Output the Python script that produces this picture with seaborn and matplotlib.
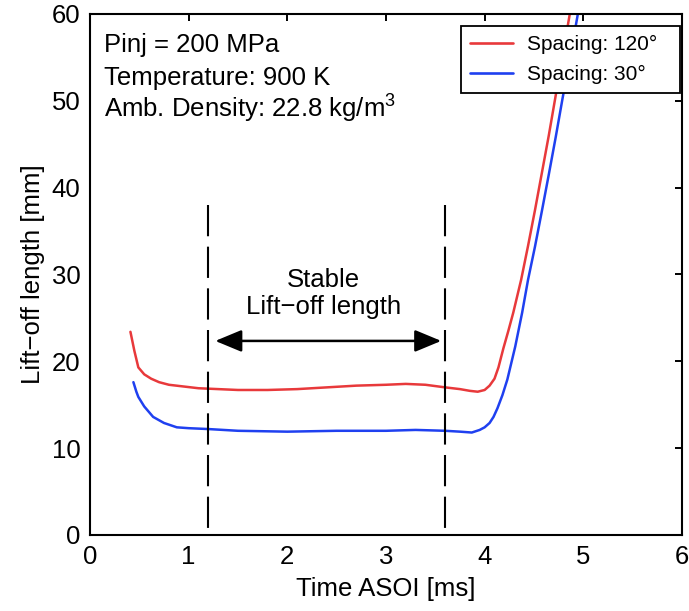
import matplotlib
matplotlib.use("Agg")
import matplotlib.pyplot as plt
import numpy as np
import pandas as pd
import seaborn as sns

# ---------------- data ----------------
time_120 = [0.41, 0.45, 0.49, 0.55, 0.62, 0.70, 0.80, 0.95, 1.10, 1.30, 1.50, 1.80,
            2.10, 2.40, 2.70, 3.00, 3.20, 3.40, 3.60, 3.75, 3.85, 3.93, 4.00, 4.05,
            4.10, 4.14, 4.19, 4.24, 4.29, 4.37, 4.44, 4.51, 4.58, 4.65, 4.72, 4.79,
            4.86, 4.90]
lift_120 = [23.4, 21.2, 19.3, 18.5, 18.0, 17.6, 17.3, 17.1, 16.9, 16.8, 16.7, 16.7,
            16.8, 17.0, 17.2, 17.3, 17.4, 17.3, 17.0, 16.8, 16.6, 16.5, 16.7, 17.2,
            18.0, 19.3, 21.5, 23.5, 25.6, 29.4, 33.3, 37.4, 41.7, 46.0, 50.6, 55.2,
            59.8, 62.5]

time_30 = [0.44, 0.47, 0.49, 0.55, 0.64, 0.75, 0.88, 1.00, 1.20, 1.50, 2.00, 2.50,
           3.00, 3.30, 3.60, 3.75, 3.87, 3.95, 4.00, 4.05, 4.09, 4.13, 4.18, 4.23,
           4.31, 4.38, 4.44, 4.51, 4.58, 4.65, 4.72, 4.79, 4.87, 4.94, 4.98]
lift_30 = [17.6, 16.5, 15.9, 14.8, 13.6, 12.9, 12.4, 12.3, 12.2, 12.0, 11.9, 12.0,
           12.0, 12.1, 12.0, 11.9, 11.8, 12.1, 12.4, 12.9, 13.6, 14.6, 16.1, 17.9,
           21.7, 25.6, 29.4, 33.2, 37.3, 41.5, 45.8, 50.3, 55.2, 59.7, 62.5]

series_labels = ["Spacing: 120°", "Spacing: 30°"]
series_colors = ["#e8393b", "#1f40f0"]

x_ticks = [0, 1, 2, 3, 4, 5, 6]
y_ticks = [0, 10, 20, 30, 40, 50, 60]

stable_start, stable_end = 1.2, 3.6
info_lines = ["Pinj = 200 MPa", "Temperature: 900 K", "Amb. Density: 22.8 kg/m$^3$"]

# ---------------- style ----------------
sns.set_theme(style="white")
plt.rcParams["font.family"] = ["Liberation Sans", "DejaVu Sans"]
plt.rcParams["mathtext.fontset"] = "custom"
plt.rcParams["mathtext.rm"] = "Liberation Sans"
plt.rcParams["mathtext.it"] = "Liberation Sans:italic"
plt.rcParams["axes.unicode_minus"] = True
plt.rcParams["text.color"] = "black"
plt.rcParams["axes.labelcolor"] = "black"
plt.rcParams["xtick.color"] = "black"
plt.rcParams["ytick.color"] = "black"

FS = 18.5

df = pd.concat([
    pd.DataFrame({"time": time_120, "lift": lift_120, "series": series_labels[0]}),
    pd.DataFrame({"time": time_30, "lift": lift_30, "series": series_labels[1]}),
], ignore_index=True)

fig = plt.figure(figsize=(6.89, 6.11), dpi=100)
ax = fig.add_axes([0.1306, 0.1244, 0.8592, 0.8527])

sns.lineplot(data=df, x="time", y="lift", hue="series", hue_order=series_labels,
             palette=series_colors, sort=False, estimator=None, lw=1.8, ax=ax)

ax.set_xlim(0, 6)
ax.set_ylim(0, 60)
ax.set_xticks(x_ticks)
ax.set_yticks(y_ticks)
ax.set_xticklabels([str(t) for t in x_ticks])
ax.set_yticklabels([str(t) for t in y_ticks])

ax.set_xlabel("Time ASOI [ms]", fontsize=FS, labelpad=6, color="black")
ax.set_ylabel("Lift\u2212off length [mm]", fontsize=FS, labelpad=5, color="black")

ax.tick_params(direction="in", length=5, width=1.4, top=True, right=True,
               labelsize=FS, pad=7, colors="black")
for sp in ax.spines.values():
    sp.set_linewidth(1.5)
    sp.set_color("black")

# dashed vertical markers
for xv in (stable_start, stable_end):
    ax.plot([xv, xv], [38.0, 0.0], color="black", lw=1.5, dashes=(15, 5),
            solid_capstyle="butt")

# double arrow
ax.annotate("", xy=(1.27, 22.35), xytext=(3.56, 22.35),
            arrowprops=dict(arrowstyle="<|-|>,head_length=0.65,head_width=0.27",
                            color="black", lw=1.8, mutation_scale=25,
                            shrinkA=0, shrinkB=0))
ax.text(2.37, 28.6, "Stable", ha="center", va="baseline", fontsize=FS, color="black")
ax.text(2.37, 25.5, "Lift\u2212off length", ha="center", va="baseline", fontsize=FS,
        color="black")

# info text
for yv, s in zip([55.6, 51.8, 48.1], info_lines):
    ax.text(0.142, yv, s, ha="left", va="baseline", fontsize=FS, color="black")

# legend
leg = ax.legend(loc="upper left", bbox_to_anchor=(0.6267, 0.60, 0.370, 0.377),
                mode="expand", borderaxespad=0, fontsize=15, frameon=True,
                fancybox=False, edgecolor="black", framealpha=1,
                handlelength=2.07, handletextpad=0.67, labelspacing=0.5,
                borderpad=0.45)
leg.get_frame().set_linewidth(1.3)
for line in leg.get_lines():
    line.set_linewidth(1.9)
for t in leg.get_texts():
    t.set_color("black")

fig.savefig("out.png", dpi=100)
